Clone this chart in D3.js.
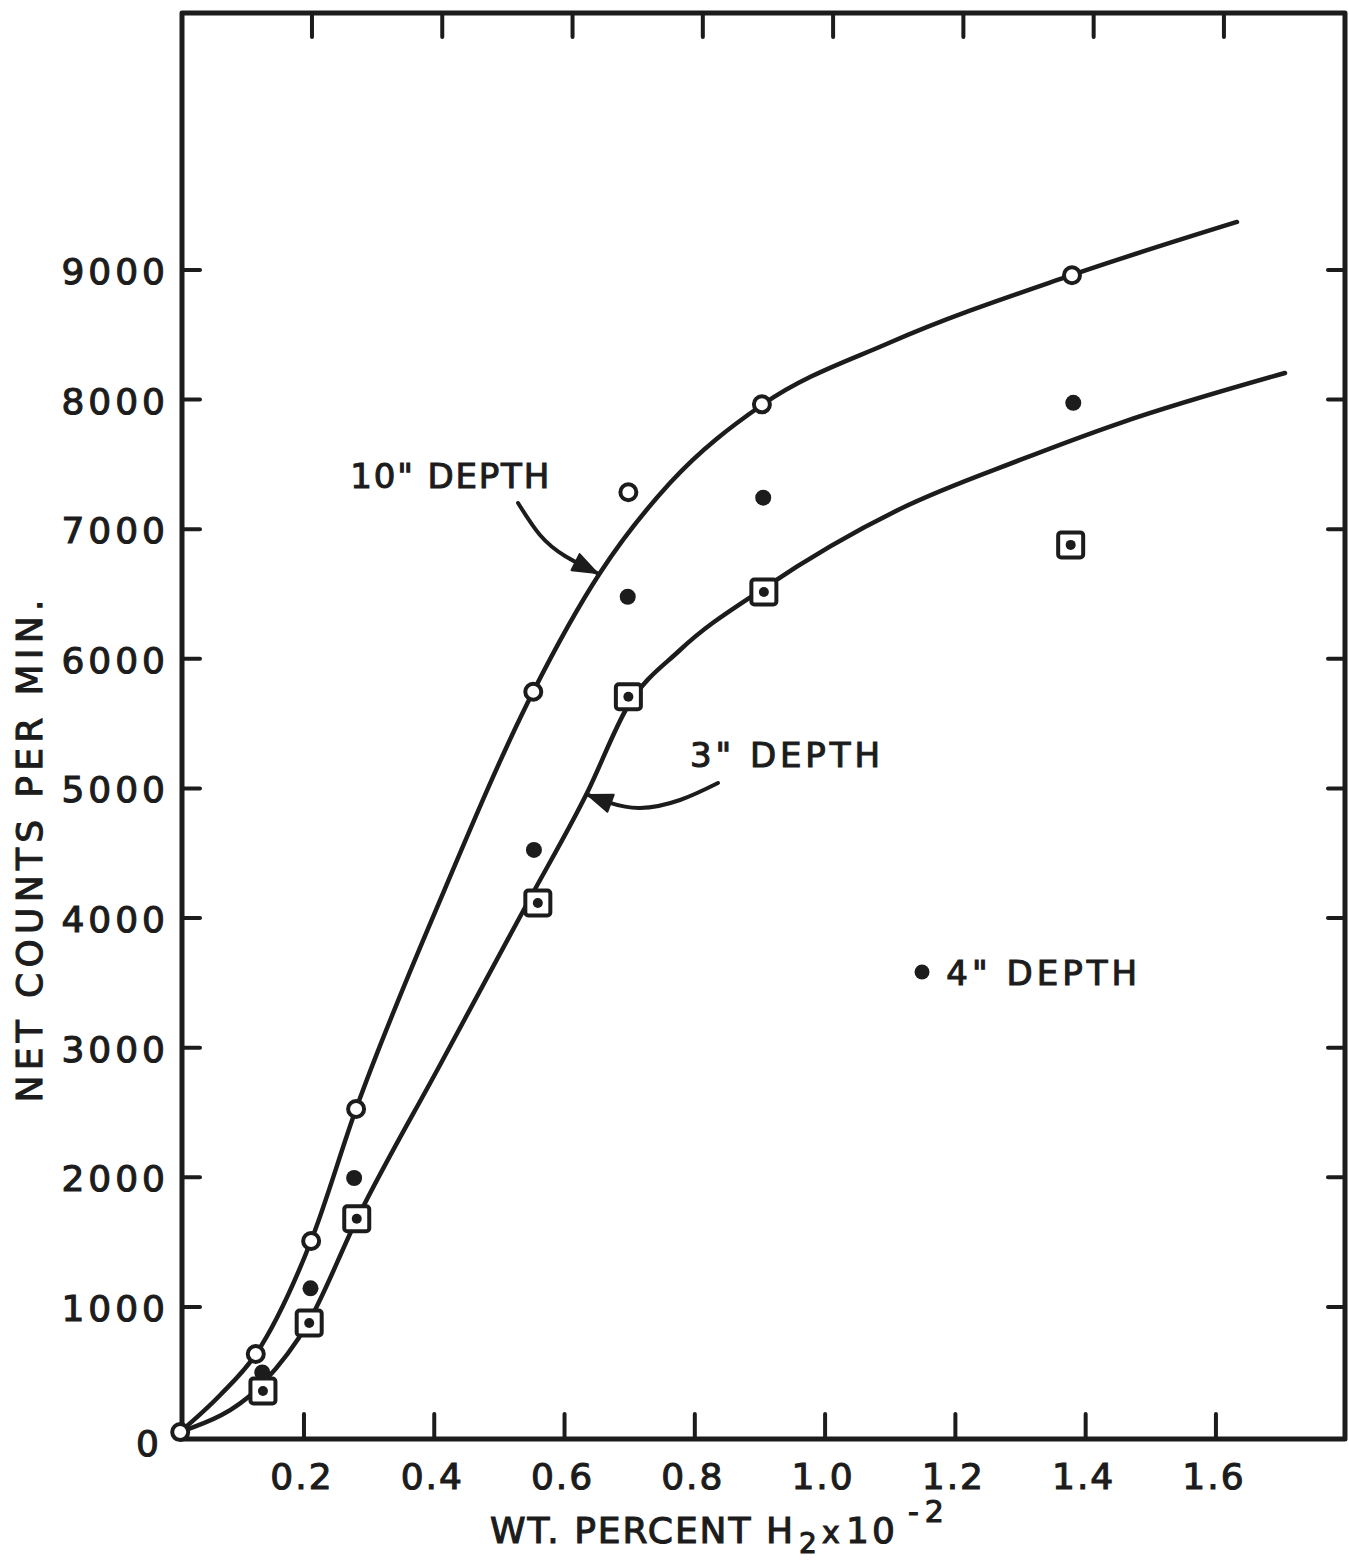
<!DOCTYPE html>
<html>
<head>
<meta charset="utf-8">
<script src="https://cdn.jsdelivr.net/npm/d3@7"></script>
<style>
  html, body { margin: 0; padding: 0; background: #ffffff; }
  svg { display: block; }
  text { font-family: "DejaVu Sans", "Liberation Sans", sans-serif; fill: #1c1c1c; stroke: #1c1c1c; stroke-width: 1.1px; }
</style>
</head>
<body>
<script>
// ---------------- DATA ----------------
// x = wt. percent H2 x 10^-2 ; y = net counts per minute
const xTickValues = [0.2, 0.4, 0.6, 0.8, 1.0, 1.2, 1.4, 1.6];
const xTickLabels = ["0.2", "0.4", "0.6", "0.8", "1.0", "1.2", "1.4", "1.6"];
const yTickValues = [0, 1000, 2000, 3000, 4000, 5000, 6000, 7000, 8000, 9000];
const yTickLabels = ["0", "1000", "2000", "3000", "4000", "5000", "6000", "7000", "8000", "9000"];

// 10" depth — open circles
const depth10X = [0.01, 0.126, 0.211, 0.280, 0.552, 0.698, 0.903, 1.379];
const depth10Y = [35, 637, 1509, 2527, 5746, 7285, 7963, 8959];
// 4" depth — filled dots
const depth4X = [0.136, 0.210, 0.277, 0.553, 0.697, 0.905, 1.381];
const depth4Y = [495, 1144, 1995, 4526, 6479, 7243, 7975];
// 3" depth — squares with dot
const depth3X = [0.137, 0.208, 0.281, 0.559, 0.698, 0.906, 1.377];
const depth3Y = [352, 877, 1680, 4117, 5708, 6516, 6879];

// hand-drawn fitted curves
const curve10X = [0.0097, 0.0714, 0.1263, 0.2108, 0.2799, 0.4100, 0.5516, 0.6544, 0.7618, 0.9031, 1.0996, 1.3790, 1.6323];
const curve10Y = [35, 321, 637, 1509, 2527, 4150, 5744, 6662, 7356, 7958, 8440, 8961, 9370];
const curve3X = [0.0097, 0.1371, 0.2062, 0.2814, 0.4088, 0.5439, 0.6345, 0.6974, 0.7773, 0.9063, 1.1150, 1.2992, 1.4527, 1.7060];
const curve3Y = [35, 413, 876, 1679, 2867, 4124, 4965, 5636, 6068, 6546, 7156, 7534, 7819, 8205];

// annotation labels (data coordinates)
const labelTexts = ['10" DEPTH', '3" DEPTH', '4" DEPTH'];
const labelX = [0.2711, 0.7927, 1.1859];
const labelY = [7318, 5165, 3484];
const legendDotX = 1.1488, legendDotY = 3584;
// annotation arrows (data coordinates, tail -> tip)
const arrow10X = [0.5286, 0.5623, 0.6007, 0.6498];
const arrow10Y = [7202, 6955, 6793, 6662];
const arrow3X = [0.8356, 0.7773, 0.7159, 0.6698, 0.6361];
const arrow3Y = [5042, 4911, 4849, 4888, 4950];

const yTitle = "NET COUNTS PER MIN.";

// ---------------- LAYOUT ----------------
const W = 1349, H = 1561;
const ink = "#1c1c1c";
const frame = { left: 182, right: 1345, top: 13, bottom: 1439 };

const x = d3.scaleLinear().domain([0, 1.8]).range([173.7, 173.7 + 1.8 * 651.4]);
const y = d3.scaleLinear().domain([0, 11000]).range([1436.6, 1436.6 - 11000 * 0.12963]);

const svg = d3.select("body").append("svg").attr("width", W).attr("height", H);
svg.append("rect").attr("width", W).attr("height", H).attr("fill", "#ffffff");

// frame
svg.append("rect")
  .attr("x", frame.left).attr("y", frame.top)
  .attr("width", frame.right - frame.left).attr("height", frame.bottom - frame.top)
  .attr("fill", "none").attr("stroke", ink).attr("stroke-width", 5).attr("stroke-linejoin", "round");

// bottom ticks (inward) + labels
const gx = svg.append("g");
gx.selectAll("line.bt").data(xTickValues).join("line")
  .attr("x1", d => x(d)).attr("x2", d => x(d))
  .attr("y1", frame.bottom).attr("y2", frame.bottom - 25)
  .attr("stroke", ink).attr("stroke-width", 4).attr("stroke-linecap", "round");
// top ticks (inward)
gx.selectAll("line.tt").data(xTickValues).join("line")
  .attr("x1", d => x(d) + 8).attr("x2", d => x(d) + 8)
  .attr("y1", frame.top).attr("y2", frame.top + 24)
  .attr("stroke", ink).attr("stroke-width", 4).attr("stroke-linecap", "round");
gx.selectAll("text").data(xTickValues).join("text")
  .attr("x", d => x(d) - 2).attr("y", 1489)
  .attr("text-anchor", "middle").attr("font-size", 36).attr("letter-spacing", 2)
  .text((d, i) => xTickLabels[i]);

// left / right ticks + labels
const gy = svg.append("g");
const yt = yTickValues.filter(d => d > 0);
gy.selectAll("line.lt").data(yt).join("line")
  .attr("x1", frame.left).attr("x2", frame.left + 18)
  .attr("y1", d => y(d)).attr("y2", d => y(d))
  .attr("stroke", ink).attr("stroke-width", 4).attr("stroke-linecap", "round");
gy.selectAll("line.rt").data(yt).join("line")
  .attr("x1", frame.right).attr("x2", frame.right - 17)
  .attr("y1", d => y(d)).attr("y2", d => y(d))
  .attr("stroke", ink).attr("stroke-width", 4).attr("stroke-linecap", "round");
gy.selectAll("text").data(yTickValues).join("text")
  .attr("x", d => d === 0 ? 163 : 169).attr("y", d => y(d) + 14 + (d === 0 ? 5 : 0))
  .attr("text-anchor", "end").attr("font-size", 36).attr("letter-spacing", 4)
  .text((d, i) => yTickLabels[i]);

// axis titles
svg.append("text")
  .attr("transform", `translate(42, ${851}) rotate(-90)`)
  .attr("text-anchor", "middle").attr("font-size", 36)
  .attr("textLength", 503).attr("lengthAdjust", "spacing")
  .text(yTitle);

const xt = svg.append("text").attr("font-size", 36);
xt.append("tspan").attr("x", 490).attr("y", 1543).attr("textLength", 303).attr("lengthAdjust", "spacing").text("WT. PERCENT H");
xt.append("tspan").attr("x", 799).attr("y", 1553).attr("font-size", 28).text("2");
xt.append("tspan").attr("x", 822).attr("y", 1543).attr("font-size", 30).text("x");
xt.append("tspan").attr("x", 846).attr("y", 1543).attr("letter-spacing", 3).text("10");
xt.append("tspan").attr("x", 908).attr("y", 1522).attr("font-size", 30).attr("letter-spacing", 6).text("-2");

// fitted curves
const line = d3.line().x(d => x(d[0])).y(d => y(d[1])).curve(d3.curveMonotoneX);
const c10 = curve10X.map((v, i) => [v, curve10Y[i]]);
const c3 = curve3X.map((v, i) => [v, curve3Y[i]]);
[c10, c3].forEach(c => {
  svg.append("path").attr("d", line(c)).attr("fill", "none")
    .attr("stroke", ink).attr("stroke-width", 4.5).attr("stroke-linecap", "round");
});

// annotation arrows
const aline = d3.line().x(d => x(d[0])).y(d => y(d[1])).curve(d3.curveNatural);
function arrow(xs, ys) {
  const pts = xs.map((v, i) => [v, ys[i]]);
  const p = svg.append("path").attr("d", aline(pts)).attr("fill", "none")
    .attr("stroke", ink).attr("stroke-width", 4).attr("stroke-linecap", "round");
  const node = p.node();
  const L = node.getTotalLength();
  const tip = node.getPointAtLength(L);
  const back = node.getPointAtLength(Math.max(0, L - 20));
  const a = Math.atan2(tip.y - back.y, tip.x - back.x);
  const hl = 24, hw = 9;
  const bx = tip.x - hl * Math.cos(a), by = tip.y - hl * Math.sin(a);
  const px = -Math.sin(a) * hw, py = Math.cos(a) * hw;
  svg.append("path")
    .attr("d", `M${tip.x},${tip.y}L${bx + px},${by + py}L${bx - px},${by - py}Z`)
    .attr("fill", ink).attr("stroke", ink).attr("stroke-width", 2).attr("stroke-linejoin", "round");
}
arrow(arrow10X, arrow10Y);
arrow(arrow3X, arrow3Y);

// labels
const lens = [199, 190, 191];
labelTexts.forEach((t, i) => {
  svg.append("text").attr("x", x(labelX[i])).attr("y", y(labelY[i]))
    .attr("font-size", 34).attr("textLength", lens[i]).attr("lengthAdjust", "spacing").text(t);
});
svg.append("circle").attr("cx", x(legendDotX)).attr("cy", y(legendDotY)).attr("r", 7.5).attr("fill", ink);

// markers
const d4 = depth4X.map((v, i) => [v, depth4Y[i]]);
svg.append("g").selectAll("circle").data(d4).join("circle")
  .attr("cx", d => x(d[0])).attr("cy", d => y(d[1])).attr("r", 8).attr("fill", ink);

const d3s = depth3X.map((v, i) => [v, depth3Y[i]]);
const gs = svg.append("g");
gs.selectAll("rect").data(d3s).join("rect")
  .attr("x", d => x(d[0]) - 12.5).attr("y", d => y(d[1]) - 12.5)
  .attr("width", 25).attr("height", 25).attr("rx", 3)
  .attr("fill", "#ffffff").attr("stroke", ink).attr("stroke-width", 4);
gs.selectAll("circle").data(d3s).join("circle")
  .attr("cx", d => x(d[0])).attr("cy", d => y(d[1])).attr("r", 5).attr("fill", ink);

const d10 = depth10X.map((v, i) => [v, depth10Y[i]]);
svg.append("g").selectAll("circle").data(d10).join("circle")
  .attr("cx", d => x(d[0])).attr("cy", d => y(d[1])).attr("r", 8)
  .attr("fill", "#ffffff").attr("stroke", ink).attr("stroke-width", 4);
</script>
</body>
</html>
